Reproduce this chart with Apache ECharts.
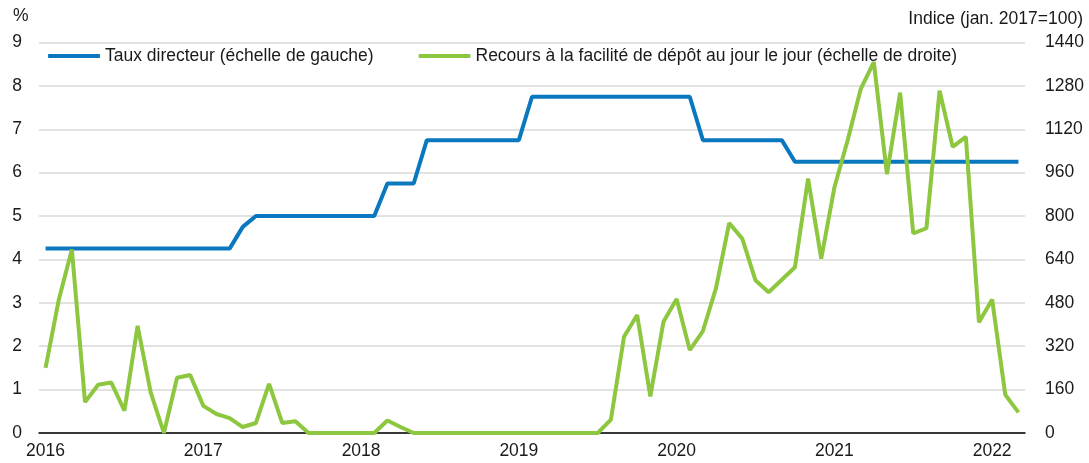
<!DOCTYPE html>
<html>
<head>
<meta charset="utf-8">
<script src="https://cdn.jsdelivr.net/npm/echarts@6/dist/echarts.min.js"></script>
<style>
  html, body { margin: 0; padding: 0; background: #fff; }
  #chart { width: 1089px; height: 463px; }
</style>
</head>
<body>
<div id="chart"></div>
<script>
// Monthly categories, Jan 2016 -> Mar 2022
const startYear = 2016;
const monthCount = 75;
const months = [];
for (let i = 0; i < monthCount; i++) {
  const y = startYear + Math.floor(i / 12);
  const m = (i % 12) + 1;
  months.push(y + '-' + String(m).padStart(2, '0'));
}

// Taux directeur, %
const policyRate = [
  4.25, 4.25, 4.25, 4.25, 4.25, 4.25, 4.25, 4.25, 4.25, 4.25, 4.25, 4.25,
  4.25, 4.25, 4.25, 4.75, 5, 5, 5, 5, 5, 5, 5, 5,
  5, 5, 5.75, 5.75, 5.75, 6.75, 6.75, 6.75, 6.75, 6.75, 6.75, 6.75,
  6.75, 7.75, 7.75, 7.75, 7.75, 7.75, 7.75, 7.75, 7.75, 7.75, 7.75, 7.75,
  7.75, 7.75, 6.75, 6.75, 6.75, 6.75, 6.75, 6.75, 6.75, 6.25, 6.25, 6.25,
  6.25, 6.25, 6.25, 6.25, 6.25, 6.25, 6.25, 6.25, 6.25, 6.25, 6.25, 6.25,
  6.25, 6.25, 6.25
];

// Recours à la facilité de dépôt, indice jan. 2017 = 100
const depositFacility = [
  240, 490, 677, 114, 178, 186, 82, 395, 149, 0, 204, 214,
  100, 70, 55, 22, 37, 181, 37, 43, 0, 0, 0, 0,
  0, 0, 46, 22, 0, 0, 0, 0, 0, 0, 0, 0,
  0, 0, 0, 0, 0, 0, 0, 49, 355, 435, 135, 410,
  494, 306, 376, 535, 774, 716, 563, 519, 565, 611, 938, 643,
  905, 1078, 1268, 1368, 954, 1255, 736, 755, 1262, 1055, 1092, 408,
  492, 141, 76
];

const leftTicks = { min: 0, max: 9, interval: 1 };
const rightTicks = { min: 0, max: 1440, interval: 160 };

const seriesNames = [
  'Taux directeur (échelle de gauche)',
  'Recours à la facilité de dépôt au jour le jour (échelle de droite)'
];

const FONT = '"Liberation Sans", Arial, sans-serif';
const FONT_SIZE = 17.5;
const BLUE = '#0a78bf';
const GREEN = '#8dc63f';
const TEXT = '#1a1a1a';

const chart = echarts.init(document.getElementById('chart'), null, { renderer: 'canvas' });

chart.setOption({
  animation: false,
  backgroundColor: '#fff',
  textStyle: { fontFamily: FONT },
  grid: { left: 39, right: 64, top: 42.5, bottom: 30, containLabel: false },
  legend: {
    left: 48,
    top: 47,
    padding: 0,
    icon: 'roundRect',
    itemWidth: 52,
    itemHeight: 4,
    itemGap: 45,
    textStyle: { fontFamily: FONT, fontSize: FONT_SIZE, color: TEXT },
    data: seriesNames
  },
  graphic: [
    {
      type: 'text', left: 13, top: 7,
      style: { text: '%', font: FONT_SIZE + 'px ' + FONT, fill: TEXT }
    },
    {
      type: 'text', right: 6, top: 10,
      style: { text: 'Indice (jan. 2017=100)', font: FONT_SIZE + 'px ' + FONT, fill: TEXT }
    }
  ],
  xAxis: {
    type: 'category',
    data: months,
    boundaryGap: true,
    axisLine: { lineStyle: { color: '#000', width: 1.5 } },
    axisTick: {
      inside: true,
      length: 5,
      interval: (i) => i % 12 === 0,
      lineStyle: { color: '#000', width: 1.5 }
    },
    axisLabel: {
      interval: (i) => i % 12 === 0,
      formatter: (v) => v.slice(0, 4),
      margin: 9,
      fontFamily: FONT,
      fontSize: FONT_SIZE,
      color: TEXT
    },
    splitLine: { show: false }
  },
  yAxis: [
    {
      type: 'value',
      min: leftTicks.min,
      max: leftTicks.max,
      interval: leftTicks.interval,
      axisLine: { show: false },
      axisTick: { show: false },
      axisLabel: { margin: 17, fontFamily: FONT, fontSize: FONT_SIZE, color: TEXT },
      splitLine: { lineStyle: { color: '#d9d9d9', width: 1.5 } }
    },
    {
      type: 'value',
      min: rightTicks.min,
      max: rightTicks.max,
      interval: rightTicks.interval,
      position: 'right',
      axisLine: { show: false },
      axisTick: { show: false },
      axisLabel: {
        margin: 20,
        formatter: (v) => String(v),
        fontFamily: FONT,
        fontSize: FONT_SIZE,
        color: TEXT
      },
      splitLine: { show: false }
    }
  ],
  series: [
    {
      name: seriesNames[0],
      type: 'line',
      yAxisIndex: 0,
      data: policyRate,
      symbol: 'none',
      lineStyle: { color: BLUE, width: 4 },
      itemStyle: { color: BLUE },
      z: 2
    },
    {
      name: seriesNames[1],
      type: 'line',
      yAxisIndex: 1,
      data: depositFacility,
      symbol: 'none',
      lineStyle: { color: GREEN, width: 4 },
      itemStyle: { color: GREEN },
      z: 3
    }
  ]
});
</script>
</body>
</html>
